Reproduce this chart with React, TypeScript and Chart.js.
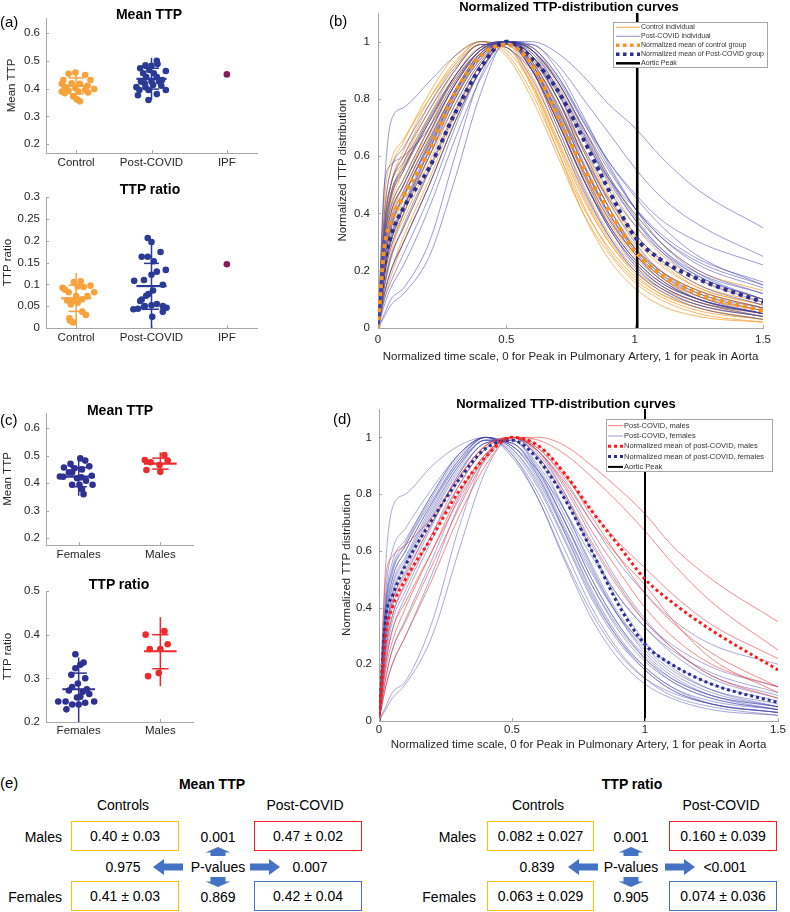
import React, { useEffect, useRef } from 'react';
import { Chart, registerables } from 'chart.js';

Chart.register(...registerables);

const FONT = "'Liberation Sans', Arial, Helvetica, sans-serif";
const INK = '#262626';
const AXIS_COLOR = '#a8a8a8';
Chart.defaults.font.family = FONT;
Chart.defaults.color = INK;

// ---------------- Panel (a) data ----------------
const A_CATEGORIES = ['Control', 'Post-COVID', 'IPF'];
const A_CAT_POS = [1, 2, 3];
const A_MEAN_TTP_TICKS = [0.2, 0.3, 0.4, 0.5, 0.6];
const A_RATIO_TICKS = [0, 0.05, 0.1, 0.15, 0.2, 0.25, 0.3];

const CONTROL_MEAN_TTP = [0.458, 0.453, 0.449, 0.431, 0.431, 0.417, 0.419, 0.417, 0.41, 0.405, 0.401, 0.395, 0.398, 0.389, 0.393, 0.389, 0.386, 0.383, 0.371, 0.361, 0.354];
const CONTROL_MEAN_TTP_JITTER = [-0.01, -0.1, 0.12, -0.17, 0.19, -0.19, -0.06, 0.05, 0.15, -0.15, -0.01, 0.12, 0.24, -0.19, -0.1, 0.03, 0.16, -0.15, -0.04, 0.01, 0.05];
const POSTCOVID_MEAN_TTP = [0.484, 0.482, 0.5, 0.488, 0.473, 0.467, 0.463, 0.455, 0.455, 0.441, 0.441, 0.431, 0.425, 0.425, 0.425, 0.419, 0.413, 0.41, 0.405, 0.405, 0.395, 0.395, 0.395, 0.38, 0.376, 0.359];
const POSTCOVID_MEAN_TTP_JITTER = [-0.08, 0, 0.07, 0.08, -0.15, -0.03, 0.19, -0.11, 0.03, -0.07, 0.07, 0.14, -0.14, 0, 0.1, -0.09, 0.02, 0.13, -0.2, -0.08, 0.19, -0.16, -0.04, 0.07, -0.18, -0.04];
const IPF_MEAN_TTP = [0.451];
const IPF_MEAN_TTP_JITTER = [0];

const CONTROL_RATIO = [0.105, 0.107, 0.092, 0.095, 0.097, 0.082, 0.082, 0.073, 0.073, 0.063, 0.062, 0.054, 0.0375, 0.03, 0.0225, 0.0165, 0.0128, 0.088, 0.094, 0.058, 0.066];
const CONTROL_RATIO_JITTER = [-0.03, 0.06, -0.18, 0.02, 0.19, -0.1, 0.24, 0, 0.15, -0.12, -0.04, -0.07, 0.08, 0.13, -0.09, -0.08, -0.04, -0.15, 0.1, 0.02, 0.08];
const POSTCOVID_RATIO = [0.206, 0.197, 0.174, 0.163, 0.163, 0.153, 0.129, 0.133, 0.122, 0.108, 0.11, 0.099, 0.086, 0.078, 0.074, 0.065, 0.062, 0.052, 0.05, 0.055, 0.05, 0.0465, 0.043, 0.044, 0.048, 0.037, 0.0255];
const POSTCOVID_RATIO_JITTER = [-0.05, 0, 0.12, -0.13, -0.05, 0.03, 0.07, 0.19, 0, -0.23, -0.1, 0.15, 0.02, -0.04, -0.07, -0.13, -0.15, 0, -0.09, 0.07, 0.15, 0.2, -0.24, -0.18, -0.1, 0.15, 0.01];
const IPF_RATIO = [0.146];
const IPF_RATIO_JITTER = [0];

// [mean, sd low, sd high, whisker low, whisker high]
const CONTROL_MEAN_TTP_STATS = [0.41, 0.381, 0.438, 0.354, 0.464];
const POSTCOVID_MEAN_TTP_STATS = [0.435, 0.398, 0.473, 0.359, 0.511];
const CONTROL_RATIO_STATS = [0.068, 0.038, 0.098, 0.006, 0.126];
const POSTCOVID_RATIO_STATS = [0.096, 0.043, 0.148, 0.0, 0.193];

// ---------------- Panel (c) data ----------------
const C_CATEGORIES = ['Females', 'Males'];
const C_CAT_POS = [1, 2];
const C_MEAN_TTP_TICKS = [0.2, 0.3, 0.4, 0.5, 0.6];
const C_RATIO_TICKS = [0.2, 0.3, 0.4, 0.5];

const FEMALE_MEAN_TTP = [0.49, 0.482, 0.47, 0.461, 0.457, 0.454, 0.45, 0.439, 0.439, 0.424, 0.423, 0.418, 0.421, 0.409, 0.427, 0.394, 0.394, 0.394, 0.378, 0.36];
const FEMALE_MEAN_TTP_JITTER = [0.02, 0.08, -0.1, 0.13, -0.18, -0.05, 0.04, -0.12, -0.08, -0.23, -0.19, -0.02, 0.03, 0.09, 0.16, -0.08, 0.17, 0.01, 0.04, 0.06];
const MALE_MEAN_TTP = [0.502, 0.484, 0.476, 0.482, 0.466, 0.448, 0.441];
const MALE_MEAN_TTP_JITTER = [0.05, -0.19, -0.12, 0.09, -0.01, -0.17, 0];
const FEMALE_RATIO = [0.355, 0.336, 0.331, 0.323, 0.308, 0.3, 0.288, 0.28, 0.269, 0.264, 0.256, 0.258, 0.247, 0.247, 0.24, 0.24, 0.244, 0.247, 0.229, 0.272, 0.275];
const FEMALE_RATIO_JITTER = [-0.04, 0.06, 0.02, -0.04, -0.09, 0.08, -0.01, -0.08, 0.05, 0.13, -0.02, 0.02, -0.25, -0.16, -0.08, 0, 0.08, 0.19, -0.15, -0.12, 0.1];
const MALE_RATIO = [0.4, 0.408, 0.378, 0.367, 0.367, 0.305, 0.312];
const MALE_RATIO_JITTER = [-0.18, 0.05, 0.09, -0.13, 0, -0.15, -0.02];

const FEMALE_MEAN_TTP_STATS = [0.424, 0.387, 0.457, 0.354, 0.494];
const MALE_MEAN_TTP_STATS = [0.471, 0.451, 0.491, 0.433, 0.512];
const FEMALE_RATIO_STATS = [0.275, 0.241, 0.312, 0.2, 0.348];
const MALE_RATIO_STATS = [0.362, 0.322, 0.4, 0.282, 0.44];

// ---------------- Panels (b) and (d) curve data ----------------
const XGRID = [0, 0.025, 0.05, 0.1, 0.2, 0.3, 0.4, 0.5, 0.6, 0.7, 0.8, 0.9, 1.0, 1.1, 1.25, 1.5];
const CURVE_X_TICKS = [0, 0.5, 1, 1.5];
const CURVE_Y_TICKS = [0, 0.2, 0.4, 0.6, 0.8, 1];

// panel (b)
const CONTROL_CURVES = [
  [0, 0.3, 0.45, 0.55, 0.72, 0.88, 0.98, 1.0, 0.9, 0.72, 0.52, 0.36, 0.24, 0.16, 0.1, 0.05],
  [0, 0.2, 0.3, 0.4, 0.6, 0.8, 0.95, 1.0, 0.92, 0.75, 0.55, 0.38, 0.26, 0.18, 0.11, 0.06],
  [0, 0.35, 0.5, 0.62, 0.8, 0.93, 1.0, 0.97, 0.85, 0.65, 0.45, 0.3, 0.19, 0.12, 0.07, 0.03],
  [0, 0.15, 0.25, 0.35, 0.55, 0.75, 0.92, 1.0, 0.95, 0.8, 0.6, 0.42, 0.29, 0.2, 0.13, 0.07],
  [0, 0.4, 0.55, 0.65, 0.82, 0.95, 1.0, 0.95, 0.8, 0.6, 0.4, 0.26, 0.16, 0.1, 0.05, 0.02],
  [0, 0.25, 0.38, 0.5, 0.68, 0.85, 0.97, 1.0, 0.9, 0.7, 0.5, 0.33, 0.22, 0.15, 0.09, 0.04],
  [0, 0.1, 0.18, 0.3, 0.5, 0.72, 0.9, 1.0, 0.97, 0.85, 0.68, 0.5, 0.36, 0.26, 0.17, 0.1],
  [0, 0.3, 0.42, 0.52, 0.7, 0.86, 0.97, 1.0, 0.93, 0.78, 0.6, 0.44, 0.31, 0.22, 0.14, 0.08],
  [0, 0.45, 0.58, 0.66, 0.8, 0.92, 0.99, 0.98, 0.84, 0.62, 0.4, 0.24, 0.14, 0.08, 0.04, 0.02],
  [0, 0.2, 0.32, 0.45, 0.65, 0.83, 0.96, 1.0, 0.93, 0.77, 0.57, 0.4, 0.27, 0.18, 0.11, 0.06],
  [0, 0.18, 0.28, 0.38, 0.58, 0.78, 0.93, 1.0, 0.96, 0.82, 0.63, 0.46, 0.33, 0.24, 0.15, 0.09],
  [0, 0.33, 0.46, 0.58, 0.76, 0.9, 0.99, 0.99, 0.88, 0.68, 0.47, 0.31, 0.2, 0.13, 0.08, 0.04],
  [0, 0.22, 0.35, 0.47, 0.67, 0.85, 0.97, 1.0, 0.9, 0.72, 0.53, 0.37, 0.25, 0.17, 0.1, 0.05],
  [0, 0.28, 0.4, 0.5, 0.7, 0.88, 0.98, 0.99, 0.86, 0.66, 0.46, 0.3, 0.2, 0.14, 0.09, 0.05],
  [0, 0.12, 0.2, 0.32, 0.52, 0.74, 0.9, 0.99, 0.98, 0.86, 0.7, 0.53, 0.4, 0.3, 0.2, 0.13],
  [0, 0.38, 0.5, 0.6, 0.78, 0.92, 1.0, 0.96, 0.82, 0.62, 0.42, 0.28, 0.18, 0.12, 0.07, 0.03],
  [0, 0.26, 0.38, 0.48, 0.66, 0.83, 0.95, 1.0, 0.94, 0.8, 0.62, 0.45, 0.32, 0.23, 0.14, 0.08],
  [0, 0.3, 0.43, 0.55, 0.74, 0.9, 0.99, 0.98, 0.85, 0.64, 0.43, 0.27, 0.17, 0.11, 0.06, 0.03],
  [0, 0.16, 0.26, 0.4, 0.62, 0.82, 0.96, 1.0, 0.92, 0.74, 0.54, 0.38, 0.26, 0.18, 0.11, 0.06],
  [0, 0.34, 0.47, 0.57, 0.73, 0.87, 0.97, 1.0, 0.91, 0.74, 0.55, 0.4, 0.28, 0.2, 0.13, 0.07],
];

const POSTCOVID_CURVES = [
  [0, 0.5, 0.72, 0.77, 0.86, 0.95, 1.0, 0.98, 0.9, 0.76, 0.6, 0.45, 0.33, 0.24, 0.15, 0.08],
  [0, 0.05, 0.1, 0.14, 0.3, 0.6, 0.88, 1.0, 0.95, 0.8, 0.6, 0.42, 0.28, 0.19, 0.11, 0.05],
  [0, 0.04, 0.08, 0.12, 0.25, 0.52, 0.82, 1.0, 0.97, 0.83, 0.62, 0.44, 0.3, 0.2, 0.12, 0.06],
  [0, 0.15, 0.25, 0.35, 0.55, 0.75, 0.92, 1.0, 1.0, 0.96, 0.88, 0.78, 0.7, 0.6, 0.48, 0.35],
  [0, 0.2, 0.32, 0.42, 0.6, 0.78, 0.93, 1.0, 0.99, 0.92, 0.8, 0.68, 0.56, 0.46, 0.36, 0.25],
  [0, 0.25, 0.37, 0.48, 0.66, 0.83, 0.96, 1.0, 0.96, 0.84, 0.68, 0.52, 0.4, 0.3, 0.2, 0.12],
  [0, 0.18, 0.28, 0.4, 0.6, 0.8, 0.94, 1.0, 0.94, 0.8, 0.63, 0.48, 0.36, 0.27, 0.18, 0.1],
  [0, 0.3, 0.45, 0.55, 0.72, 0.88, 0.98, 1.0, 0.92, 0.76, 0.57, 0.4, 0.28, 0.2, 0.13, 0.07],
  [0, 0.35, 0.5, 0.6, 0.76, 0.9, 0.99, 0.99, 0.9, 0.72, 0.52, 0.36, 0.24, 0.16, 0.1, 0.05],
  [0, 0.22, 0.34, 0.46, 0.64, 0.82, 0.95, 1.0, 0.92, 0.74, 0.54, 0.36, 0.24, 0.16, 0.1, 0.05],
  [0, 0.27, 0.4, 0.5, 0.68, 0.85, 0.97, 1.0, 0.9, 0.72, 0.52, 0.35, 0.23, 0.15, 0.09, 0.05],
  [0, 0.12, 0.2, 0.3, 0.5, 0.72, 0.9, 1.0, 0.98, 0.88, 0.72, 0.56, 0.42, 0.32, 0.22, 0.14],
  [0, 0.4, 0.55, 0.63, 0.78, 0.91, 0.99, 0.98, 0.87, 0.68, 0.48, 0.32, 0.21, 0.14, 0.08, 0.04],
  [0, 0.3, 0.42, 0.52, 0.7, 0.86, 0.97, 1.0, 0.9, 0.7, 0.49, 0.32, 0.2, 0.13, 0.07, 0.03],
  [0, 0.2, 0.3, 0.42, 0.62, 0.8, 0.94, 1.0, 0.97, 0.86, 0.7, 0.55, 0.42, 0.32, 0.23, 0.15],
  [0, 0.32, 0.46, 0.56, 0.72, 0.87, 0.97, 1.0, 0.95, 0.8, 0.6, 0.42, 0.28, 0.19, 0.12, 0.07],
  [0, 0.24, 0.36, 0.46, 0.64, 0.82, 0.95, 1.0, 0.93, 0.77, 0.57, 0.39, 0.26, 0.17, 0.1, 0.05],
  [0, 0.1, 0.16, 0.26, 0.46, 0.7, 0.9, 1.0, 0.97, 0.86, 0.7, 0.53, 0.39, 0.28, 0.18, 0.1],
  [0, 0.28, 0.4, 0.5, 0.68, 0.85, 0.96, 1.0, 0.97, 0.87, 0.72, 0.58, 0.47, 0.38, 0.3, 0.22],
  [0, 0.36, 0.5, 0.58, 0.74, 0.88, 0.98, 1.0, 0.92, 0.75, 0.55, 0.38, 0.26, 0.17, 0.1, 0.05],
  [0, 0.18, 0.3, 0.42, 0.62, 0.82, 0.95, 1.0, 0.93, 0.78, 0.58, 0.4, 0.27, 0.18, 0.1, 0.05],
  [0, 0.5, 0.57, 0.6, 0.7, 0.85, 0.97, 1.0, 0.95, 0.82, 0.66, 0.52, 0.42, 0.33, 0.24, 0.16],
  [0, 0.14, 0.24, 0.36, 0.56, 0.76, 0.92, 1.0, 0.97, 0.86, 0.69, 0.52, 0.38, 0.27, 0.17, 0.09],
  [0, 0.33, 0.47, 0.56, 0.73, 0.88, 0.98, 1.0, 0.9, 0.72, 0.52, 0.35, 0.23, 0.15, 0.09, 0.04],
  [0, 0.2, 0.31, 0.43, 0.63, 0.81, 0.95, 1.0, 0.95, 0.83, 0.67, 0.51, 0.38, 0.28, 0.19, 0.12],
  [0, 0.08, 0.14, 0.22, 0.42, 0.66, 0.87, 0.99, 0.99, 0.9, 0.74, 0.57, 0.42, 0.3, 0.19, 0.1],
  [0, 0.12, 0.2, 0.3, 0.5, 0.72, 0.9, 1.0, 0.98, 0.88, 0.73, 0.58, 0.46, 0.36, 0.25, 0.15],
  [0, 0.23, 0.35, 0.46, 0.65, 0.83, 0.96, 1.0, 0.91, 0.73, 0.52, 0.35, 0.22, 0.14, 0.08, 0.04],
];

// panel (d)
const MALE_CURVES_D = [
  [0, 0.15, 0.25, 0.35, 0.55, 0.75, 0.92, 1.0, 1.0, 0.97, 0.9, 0.82, 0.73, 0.62, 0.5, 0.35],
  [0, 0.2, 0.32, 0.42, 0.6, 0.78, 0.93, 1.0, 0.99, 0.94, 0.86, 0.77, 0.67, 0.56, 0.42, 0.25],
  [0, 0.5, 0.58, 0.62, 0.72, 0.86, 0.97, 1.0, 0.96, 0.86, 0.74, 0.63, 0.54, 0.45, 0.34, 0.22],
  [0, 0.25, 0.37, 0.48, 0.66, 0.83, 0.96, 1.0, 0.95, 0.84, 0.7, 0.58, 0.48, 0.36, 0.22, 0.1],
  [0, 0.12, 0.2, 0.3, 0.5, 0.72, 0.9, 1.0, 0.97, 0.87, 0.72, 0.58, 0.45, 0.35, 0.24, 0.12],
  [0, 0.18, 0.28, 0.4, 0.6, 0.8, 0.94, 1.0, 0.94, 0.8, 0.63, 0.48, 0.35, 0.26, 0.16, 0.08],
  [0, 0.3, 0.42, 0.52, 0.7, 0.86, 0.97, 1.0, 0.95, 0.83, 0.67, 0.53, 0.4, 0.3, 0.2, 0.12],
];
const FEMALE_CURVES_D = [
  [0, 0.55, 0.75, 0.8, 0.9, 0.97, 1.0, 0.97, 0.88, 0.74, 0.58, 0.44, 0.33, 0.24, 0.15, 0.08],
  [0, 0.05, 0.1, 0.14, 0.35, 0.68, 0.93, 1.0, 0.92, 0.74, 0.54, 0.37, 0.24, 0.16, 0.09, 0.04],
  [0, 0.04, 0.08, 0.13, 0.3, 0.6, 0.88, 1.0, 0.95, 0.8, 0.6, 0.42, 0.28, 0.19, 0.11, 0.05],
  [0, 0.35, 0.5, 0.6, 0.77, 0.92, 1.0, 0.96, 0.84, 0.66, 0.46, 0.3, 0.19, 0.12, 0.06, 0.03],
  [0, 0.42, 0.56, 0.64, 0.8, 0.94, 1.0, 0.94, 0.8, 0.6, 0.4, 0.25, 0.15, 0.09, 0.05, 0.02],
  [0, 0.3, 0.45, 0.56, 0.74, 0.9, 0.99, 0.98, 0.88, 0.7, 0.5, 0.34, 0.22, 0.14, 0.08, 0.04],
  [0, 0.38, 0.52, 0.62, 0.79, 0.93, 1.0, 0.95, 0.82, 0.63, 0.43, 0.28, 0.18, 0.11, 0.06, 0.03],
  [0, 0.28, 0.42, 0.53, 0.72, 0.88, 0.98, 0.99, 0.9, 0.74, 0.55, 0.38, 0.26, 0.18, 0.11, 0.06],
  [0, 0.45, 0.6, 0.68, 0.82, 0.94, 1.0, 0.93, 0.78, 0.57, 0.38, 0.24, 0.15, 0.1, 0.06, 0.03],
  [0, 0.2, 0.32, 0.44, 0.64, 0.83, 0.96, 1.0, 0.93, 0.78, 0.6, 0.44, 0.33, 0.25, 0.17, 0.1],
  [0, 0.33, 0.47, 0.57, 0.75, 0.9, 0.99, 0.98, 0.87, 0.7, 0.52, 0.37, 0.27, 0.2, 0.13, 0.07],
  [0, 0.15, 0.25, 0.36, 0.57, 0.79, 0.94, 1.0, 0.96, 0.85, 0.7, 0.56, 0.45, 0.36, 0.27, 0.2],
  [0, 0.4, 0.54, 0.63, 0.8, 0.94, 1.0, 0.94, 0.78, 0.56, 0.36, 0.22, 0.13, 0.08, 0.04, 0.02],
  [0, 0.3, 0.44, 0.55, 0.73, 0.89, 0.99, 0.98, 0.86, 0.66, 0.45, 0.29, 0.18, 0.11, 0.06, 0.03],
  [0, 0.22, 0.35, 0.46, 0.66, 0.85, 0.97, 1.0, 0.93, 0.79, 0.62, 0.47, 0.35, 0.27, 0.19, 0.12],
  [0, 0.36, 0.5, 0.6, 0.77, 0.91, 0.99, 0.97, 0.85, 0.67, 0.48, 0.33, 0.22, 0.15, 0.09, 0.05],
  [0, 0.26, 0.4, 0.51, 0.7, 0.87, 0.98, 0.99, 0.89, 0.72, 0.53, 0.37, 0.25, 0.17, 0.1, 0.05],
  [0, 0.12, 0.2, 0.3, 0.52, 0.76, 0.93, 1.0, 0.95, 0.82, 0.65, 0.49, 0.36, 0.26, 0.16, 0.09],
  [0, 0.4, 0.53, 0.62, 0.78, 0.92, 1.0, 0.96, 0.83, 0.64, 0.44, 0.29, 0.19, 0.12, 0.07, 0.04],
  [0, 0.24, 0.37, 0.49, 0.69, 0.87, 0.98, 0.99, 0.88, 0.7, 0.5, 0.34, 0.23, 0.15, 0.09, 0.05],
  [0, 0.34, 0.48, 0.58, 0.76, 0.91, 1.0, 0.97, 0.86, 0.68, 0.48, 0.32, 0.21, 0.14, 0.08, 0.04],
];

const CONTROL_MEAN_CURVE = [0, 0.28, 0.37, 0.46, 0.62, 0.82, 0.95, 0.99, 0.92, 0.74, 0.56, 0.41, 0.27, 0.19, 0.12, 0.06];
const POSTCOVID_MEAN_CURVE = [0, 0.22, 0.32, 0.42, 0.56, 0.75, 0.91, 1.0, 0.94, 0.83, 0.66, 0.48, 0.32, 0.24, 0.17, 0.09];
const MALE_MEAN_CURVE = [0, 0.3, 0.4, 0.5, 0.65, 0.81, 0.93, 1.0, 0.97, 0.87, 0.74, 0.62, 0.5, 0.42, 0.32, 0.18];
const FEMALE_MEAN_CURVE = [0, 0.36, 0.44, 0.55, 0.71, 0.85, 0.96, 0.99, 0.92, 0.78, 0.6, 0.41, 0.27, 0.2, 0.13, 0.065];
const AORTIC_PEAK_B = 1.01;
const AORTIC_PEAK_D = 1.0;

// ---------------- Panel (e) data ----------------
const E_ROW_LABELS = ['Males', 'Females'];
const E_COL_LABELS = ['Controls', 'Post-COVID'];
const E_MEAN_TTP_CELLS = [['0.40 ± 0.03', '0.47 ± 0.02'], ['0.41 ± 0.03', '0.42 ± 0.04']];
const E_MEAN_TTP_PVALUES = ['0.001', '0.975', '0.007', '0.869']; // up, left, right, down
const E_RATIO_CELLS = [['0.082 ± 0.027', '0.160 ± 0.039'], ['0.063 ± 0.029', '0.074 ± 0.036']];
const E_RATIO_PVALUES = ['0.001', '0.839', '<0.001', '0.905'];

// ---------------- Styling ----------------
const ORANGE = '#F8A23C';
const NAVY = '#2A3B96';
const IPF_COLOR = '#861C58';
const FEMALE_DOT = '#2E3192';
const MALE_DOT = '#EE2A2D';
const CONTROL_LINE = 'rgba(247,160,50,0.85)';
const POST_LINE = 'rgba(62,64,170,0.58)';
const MALE_LINE = 'rgba(240,55,55,0.65)';
const FEMALE_LINE = 'rgba(62,64,170,0.5)';
const BOX_COLORS = [['#FFC000', '#FF1E1E'], ['#FFC000', '#4472C4']];
const ARROW_COLOR = '#4472C4';

type Rect = { x: number; y: number; w: number; h: number };
type Area = { l: number; t: number; r: number; b: number };

function frame(c: Rect, a: Area) {
  return {
    padding: { left: 0, top: a.t - c.y, right: c.x + c.w - a.r, bottom: 0 },
    yWidth: a.l - c.x,
    xHeight: c.y + c.h - a.b,
  };
}

function axis(o: any) {
  return {
    type: 'linear',
    min: o.min,
    max: o.max,
    afterBuildTicks: (s: any) => {
      s.ticks = o.ticks.map((v: number) => ({ value: v }));
    },
    afterFit: (s: any) => {
      if (o.w !== undefined) s.width = o.w;
      if (o.h !== undefined) s.height = o.h;
    },
    ticks: {
      callback: (v: any) => (o.labels ? o.labels(v) : String(v)),
      color: INK,
      font: { size: o.size || 11.5, family: FONT },
      padding: o.tickPad,
      autoSkip: false,
      maxRotation: 0,
      minRotation: 0,
    },
    grid: { display: true, drawOnChartArea: false, drawTicks: false },
    border: { display: true, color: AXIS_COLOR, width: 1 },
    title: {
      display: !!o.title,
      text: o.title,
      color: INK,
      font: { size: o.titleSize || 11.5, family: FONT },
      padding: o.titlePad,
    },
  };
}

const inwardTicks = {
  id: 'inwardTicks',
  afterDraw(chart: any) {
    const { ctx, chartArea: a, scales } = chart;
    ctx.save();
    ctx.strokeStyle = AXIS_COLOR;
    ctx.lineWidth = 1;
    ctx.beginPath();
    scales.x.ticks.forEach((t: any) => {
      const p = Math.round(scales.x.getPixelForValue(t.value)) + 0.5;
      ctx.moveTo(p, a.bottom);
      ctx.lineTo(p, a.bottom - 3);
    });
    scales.y.ticks.forEach((t: any) => {
      const p = Math.round(scales.y.getPixelForValue(t.value)) + 0.5;
      ctx.moveTo(a.left, p);
      ctx.lineTo(a.left + 3, p);
    });
    ctx.stroke();
    ctx.restore();
  },
};

const boxLegend = {
  id: 'boxLegend',
  afterDraw(chart: any, _args: any, opts: any) {
    if (!opts || !opts.box) return;
    const b = opts.box;
    const { ctx } = chart;
    ctx.save();
    ctx.fillStyle = '#ffffff';
    ctx.fillRect(b.x, b.y, b.w, b.h);
    ctx.strokeStyle = '#a6a6a6';
    ctx.lineWidth = 1;
    ctx.strokeRect(b.x + 0.5, b.y + 0.5, b.w - 1, b.h - 1);
    const items = chart.data.datasets
      .filter((d: any) => d.legendLabel)
      .sort((p: any, q: any) => p.legendRank - q.legendRank);
    items.forEach((d: any, i: number) => {
      const cy = b.y + b.first + i * b.rowH;
      ctx.strokeStyle = d.legendColor || d.borderColor;
      ctx.lineWidth = d.legendWidth;
      ctx.setLineDash(d.legendDash || []);
      ctx.beginPath();
      ctx.moveTo(b.x + b.s0, cy);
      ctx.lineTo(b.x + b.s1, cy);
      ctx.stroke();
      ctx.setLineDash([]);
      ctx.fillStyle = '#333333';
      ctx.font = `${b.size}px ${FONT}`;
      ctx.textBaseline = 'middle';
      ctx.textAlign = 'left';
      ctx.fillText(d.legendLabel, b.x + b.tx, cy);
    });
    ctx.restore();
  },
};

function lineSet(points: any[], color: string, width: number, order: number, extra: any = {}) {
  return {
    data: points,
    showLine: true,
    borderColor: color,
    backgroundColor: color,
    borderWidth: width,
    pointRadius: 0,
    pointHoverRadius: 0,
    borderCapStyle: 'butt',
    order,
    ...extra,
  };
}

type Group = { center: number; values: number[]; jitter: number[]; stats?: number[]; color: string };

function scatterConfig(groups: Group[], spec: any) {
  const f = frame(spec.canvas, spec.area);
  const datasets: any[] = [];
  groups.forEach((g) => {
    datasets.push({
      data: g.values.map((v, i) => ({ x: g.center + g.jitter[i], y: v })),
      pointRadius: 3.3,
      pointHoverRadius: 3.3,
      pointBackgroundColor: g.color,
      pointBorderWidth: 0,
      backgroundColor: g.color,
      order: 2,
    });
    if (g.stats) {
      const [m, sLo, sHi, wLo, wHi] = g.stats;
      const c = g.center;
      datasets.push(lineSet([{ x: c, y: wLo }, { x: c, y: wHi }], g.color, 1.5, 1));
      datasets.push(lineSet([{ x: c - 0.2, y: m }, { x: c + 0.2, y: m }], g.color, 2.2, 1));
      datasets.push(lineSet([{ x: c - 0.1, y: sLo }, { x: c + 0.1, y: sLo }], g.color, 1.5, 1));
      datasets.push(lineSet([{ x: c - 0.1, y: sHi }, { x: c + 0.1, y: sHi }], g.color, 1.5, 1));
    }
  });
  return {
    type: 'scatter',
    data: { datasets },
    plugins: [inwardTicks],
    options: {
      responsive: false,
      animation: false,
      devicePixelRatio: 1,
      events: [],
      layout: { padding: f.padding },
      plugins: { legend: { display: false }, tooltip: { enabled: false }, title: { display: false } },
      scales: {
        x: axis({
          min: spec.xMin,
          max: spec.xMax,
          ticks: spec.xTicks,
          labels: spec.xLabels,
          h: f.xHeight,
          tickPad: spec.xTickPad,
        }),
        y: axis({
          min: spec.yMin,
          max: spec.yMax,
          ticks: spec.yTicks,
          w: f.yWidth,
          tickPad: spec.yTickPad,
          title: spec.yTitle,
          titlePad: { top: spec.yTitlePad, bottom: 0 },
        }),
      },
    },
  };
}

function curvePoints(ys: number[]) {
  return XGRID.map((x, i) => ({ x, y: ys[i] }));
}

function curveSet(ys: number[], color: string, width: number, order: number, extra: any = {}) {
  return lineSet(curvePoints(ys), color, width, order, { cubicInterpolationMode: 'monotone', ...extra });
}

function curveConfig(datasets: any[], spec: any) {
  const f = frame(spec.canvas, spec.area);
  return {
    type: 'scatter',
    data: { datasets },
    plugins: [inwardTicks, boxLegend],
    options: {
      responsive: false,
      animation: false,
      devicePixelRatio: 1,
      events: [],
      layout: { padding: f.padding },
      plugins: {
        legend: { display: false },
        tooltip: { enabled: false },
        title: { display: false },
        boxLegend: { box: spec.legend },
      },
      scales: {
        x: axis({
          min: 0,
          max: 1.5,
          ticks: CURVE_X_TICKS,
          h: f.xHeight,
          tickPad: spec.xTickPad,
          title: 'Normalized time scale, 0 for Peak in Pulmonary Artery, 1 for peak in Aorta',
          titlePad: { top: 0, bottom: spec.xTitlePad },
        }),
        y: axis({
          min: 0,
          max: 1.1,
          ticks: CURVE_Y_TICKS,
          w: f.yWidth,
          tickPad: spec.yTickPad,
          title: 'Normalized TTP distribution',
          titlePad: { top: spec.yTitlePad, bottom: 0 },
        }),
      },
    },
  };
}

// ---------------- Chart builders ----------------
const A1_CANVAS = { x: 0, y: 0, w: 270, h: 176 };
const A2_CANVAS = { x: 0, y: 176, w: 270, h: 172 };
const C1_CANVAS = { x: 0, y: 395, w: 270, h: 170 };
const C2_CANVAS = { x: 0, y: 570, w: 270, h: 172 };
const B_CANVAS = { x: 270, y: -10, w: 520, h: 380 };
const D_CANVAS = { x: 270, y: 385, w: 520, h: 380 };

const aLabel = (v: number) => A_CATEGORIES[A_CAT_POS.indexOf(Math.round(v))] || '';
const cLabel = (v: number) => C_CATEGORIES[C_CAT_POS.indexOf(Math.round(v))] || '';

const makeA1 = () =>
  scatterConfig(
    [
      { center: A_CAT_POS[0], values: CONTROL_MEAN_TTP, jitter: CONTROL_MEAN_TTP_JITTER, stats: CONTROL_MEAN_TTP_STATS, color: ORANGE },
      { center: A_CAT_POS[1], values: POSTCOVID_MEAN_TTP, jitter: POSTCOVID_MEAN_TTP_JITTER, stats: POSTCOVID_MEAN_TTP_STATS, color: NAVY },
      { center: A_CAT_POS[2], values: IPF_MEAN_TTP, jitter: IPF_MEAN_TTP_JITTER, color: IPF_COLOR },
    ],
    {
      canvas: A1_CANVAS, area: { l: 46, t: 18, r: 257, b: 153 },
      xMin: 0.6, xMax: 3.4, xTicks: A_CAT_POS, xLabels: aLabel, xTickPad: 3,
      yMin: 0.168, yMax: 0.654, yTicks: A_MEAN_TTP_TICKS, yTickPad: 6, yTitle: 'Mean TTP', yTitlePad: 5,
    }
  );

const makeA2 = () =>
  scatterConfig(
    [
      { center: A_CAT_POS[0], values: CONTROL_RATIO, jitter: CONTROL_RATIO_JITTER, stats: CONTROL_RATIO_STATS, color: ORANGE },
      { center: A_CAT_POS[1], values: POSTCOVID_RATIO, jitter: POSTCOVID_RATIO_JITTER, stats: POSTCOVID_RATIO_STATS, color: NAVY },
      { center: A_CAT_POS[2], values: IPF_RATIO, jitter: IPF_RATIO_JITTER, color: IPF_COLOR },
    ],
    {
      canvas: A2_CANVAS, area: { l: 46, t: 197, r: 257, b: 328 },
      xMin: 0.6, xMax: 3.4, xTicks: A_CAT_POS, xLabels: aLabel, xTickPad: 3,
      yMin: 0, yMax: 0.3, yTicks: A_RATIO_TICKS, yTickPad: 6, yTitle: 'TTP ratio', yTitlePad: 0.6,
    }
  );

const makeC1 = () =>
  scatterConfig(
    [
      { center: C_CAT_POS[0], values: FEMALE_MEAN_TTP, jitter: FEMALE_MEAN_TTP_JITTER, stats: FEMALE_MEAN_TTP_STATS, color: FEMALE_DOT },
      { center: C_CAT_POS[1], values: MALE_MEAN_TTP, jitter: MALE_MEAN_TTP_JITTER, stats: MALE_MEAN_TTP_STATS, color: MALE_DOT },
    ],
    {
      canvas: C1_CANVAS, area: { l: 46, t: 413, r: 193, b: 545 },
      xMin: 0.6, xMax: 2.4, xTicks: C_CAT_POS, xLabels: cLabel, xTickPad: 3,
      yMin: 0.175, yMax: 0.655, yTicks: C_MEAN_TTP_TICKS, yTickPad: 6, yTitle: 'Mean TTP', yTitlePad: 1,
    }
  );

const makeC2 = () =>
  scatterConfig(
    [
      { center: C_CAT_POS[0], values: FEMALE_RATIO, jitter: FEMALE_RATIO_JITTER, stats: FEMALE_RATIO_STATS, color: FEMALE_DOT },
      { center: C_CAT_POS[1], values: MALE_RATIO, jitter: MALE_RATIO_JITTER, stats: MALE_RATIO_STATS, color: MALE_DOT },
    ],
    {
      canvas: C2_CANVAS, area: { l: 46, t: 591, r: 193, b: 722 },
      xMin: 0.6, xMax: 2.4, xTicks: C_CAT_POS, xLabels: cLabel, xTickPad: 2,
      yMin: 0.2, yMax: 0.5, yTicks: C_RATIO_TICKS, yTickPad: 6, yTitle: 'TTP ratio', yTitlePad: 1,
    }
  );

const makeB = () => {
  const ds: any[] = [];
  CONTROL_CURVES.forEach((c, i) =>
    ds.push(curveSet(c, CONTROL_LINE, 0.9, 3, i === 0 ? { legendLabel: 'Control individual', legendRank: 0, legendWidth: 1 } : {}))
  );
  POSTCOVID_CURVES.forEach((c, i) =>
    ds.push(curveSet(c, POST_LINE, 0.9, 2, i === 0 ? { legendLabel: 'Post-COVID individual', legendRank: 1, legendWidth: 1 } : {}))
  );
  ds.push(curveSet(CONTROL_MEAN_CURVE, '#F7941D', 4, 0, { borderDash: [4, 4], legendLabel: 'Normalized mean of control group', legendRank: 2, legendWidth: 3.5, legendDash: [3.5, 3.5] }));
  ds.push(curveSet(POSTCOVID_MEAN_CURVE, '#2B2F92', 4, 0, { borderDash: [4, 4], legendLabel: 'Normalized mean of Post-COVID group', legendRank: 3, legendWidth: 3.5, legendDash: [3.5, 3.5] }));
  ds.push(lineSet([{ x: AORTIC_PEAK_B, y: 0 }, { x: AORTIC_PEAK_B, y: 1.1 }], '#000000', 2.6, 1, { legendLabel: 'Aortic Peak', legendRank: 4, legendWidth: 2.5 }));
  return curveConfig(ds, {
    canvas: B_CANVAS,
    area: { l: 378, t: 13, r: 763, b: 328 },
    xTickPad: 5, xTitlePad: 6, yTickPad: 8, yTitlePad: 66,
    legend: { x: 343, y: 32, w: 155, h: 46, first: 5.3, rowH: 9, s0: 3, s1: 27, tx: 28, size: 7 },
  });
};

const makeD = () => {
  const ds: any[] = [];
  MALE_CURVES_D.forEach((c, i) =>
    ds.push(curveSet(c, MALE_LINE, 0.9, 2, i === 0 ? { legendLabel: 'Post-COVID, males', legendRank: 0, legendWidth: 1 } : {}))
  );
  FEMALE_CURVES_D.forEach((c, i) =>
    ds.push(curveSet(c, FEMALE_LINE, 0.9, 3, i === 0 ? { legendLabel: 'Post-COVID, females', legendRank: 1, legendWidth: 1 } : {}))
  );
  ds.push(curveSet(MALE_MEAN_CURVE, '#FF1A1A', 3, 0, { borderDash: [3, 3], legendLabel: 'Normalized mean of post-COVID, males', legendRank: 2, legendWidth: 3, legendDash: [3, 3] }));
  ds.push(curveSet(FEMALE_MEAN_CURVE, '#2B2F92', 3, 0, { borderDash: [3, 3], legendLabel: 'Normalized mean of post-COVID, females', legendRank: 3, legendWidth: 3, legendDash: [3, 3] }));
  ds.push(lineSet([{ x: AORTIC_PEAK_D, y: 0 }, { x: AORTIC_PEAK_D, y: 1.1 }], '#000000', 2, 1, { legendLabel: 'Aortic Peak', legendRank: 4, legendWidth: 2 }));
  return curveConfig(ds, {
    canvas: D_CANVAS,
    area: { l: 379, t: 409, r: 778, b: 721 },
    xTickPad: 2, xTitlePad: 13, yTickPad: 7, yTitlePad: 70,
    legend: { x: 336, y: 34, w: 167, h: 53, first: 6.7, rowH: 10.3, s0: 2, s1: 17, tx: 18, size: 7.5 },
  });
};

// ---------------- Components ----------------
function ChartBox({ rect, make }: { rect: Rect; make: () => any }) {
  const ref = useRef<HTMLCanvasElement>(null);
  useEffect(() => {
    const chart = new Chart(ref.current as HTMLCanvasElement, make());
    return () => chart.destroy();
  }, []);
  return (
    <canvas
      ref={ref}
      width={rect.w}
      height={rect.h}
      style={{ position: 'absolute', left: rect.x, top: rect.y, width: rect.w, height: rect.h }}
    />
  );
}

function Label({ x, y, text, size = 14, bold = false, align = 'center' }: any) {
  const tx = align === 'center' ? '-50%' : align === 'right' ? '-100%' : '0';
  return (
    <div
      style={{
        position: 'absolute',
        left: x,
        top: y,
        transform: `translate(${tx}, -50%)`,
        fontFamily: FONT,
        fontSize: size,
        fontWeight: bold ? 'bold' : 'normal',
        color: '#000',
        whiteSpace: 'nowrap',
        lineHeight: 1,
      }}
    >
      {text}
    </div>
  );
}

function Box({ l, r, t, color, text }: any) {
  return (
    <div
      style={{
        position: 'absolute',
        left: l,
        top: t,
        width: r - l,
        height: 30,
        boxSizing: 'border-box',
        border: `1.5px solid ${color}`,
        display: 'flex',
        alignItems: 'center',
        justifyContent: 'center',
        fontFamily: FONT,
        fontSize: 14,
        color: '#000',
        whiteSpace: 'nowrap',
      }}
    >
      {text}
    </div>
  );
}

function hArrow(tail: number, tip: number, cy: number) {
  const d = Math.sign(tip - tail);
  const hb = tip - d * 11;
  return `${tail},${cy - 3.5} ${hb},${cy - 3.5} ${hb},${cy - 8} ${tip},${cy} ${hb},${cy + 8} ${hb},${cy + 3.5} ${tail},${cy + 3.5}`;
}
function vArrow(cx: number, tail: number, tip: number) {
  const d = Math.sign(tip - tail);
  const hb = tip - d * 5.5;
  return `${cx - 7.5},${tail} ${cx - 7.5},${hb} ${cx - 12.5},${hb} ${cx},${tip} ${cx + 12.5},${hb} ${cx + 7.5},${hb} ${cx + 7.5},${tail}`;
}

const ROW_Y = [837, 897];
const BOX_TOP = [821, 881];

function Summary({ g, title, cells, pvals }: any) {
  return (
    <>
      <Label x={g.titleX} y={784} text={title} bold size={14} />
      <Label x={g.colX[0]} y={805} text={E_COL_LABELS[0]} />
      <Label x={g.colX[1]} y={805} text={E_COL_LABELS[1]} />
      {E_ROW_LABELS.map((r, i) => (
        <Label key={r} x={g.rowRight} y={ROW_Y[i]} text={r} align="right" />
      ))}
      {cells.map((row: string[], i: number) =>
        row.map((c: string, j: number) => (
          <Box key={`${i}-${j}`} l={g.boxes[j][0]} r={g.boxes[j][1]} t={BOX_TOP[i]} color={BOX_COLORS[i][j]} text={c} />
        ))
      )}
      <Label x={g.pX} y={837} text={pvals[0]} />
      <Label x={g.leftPX} y={867} text={pvals[1]} />
      <Label x={g.pX} y={867} text="P-values" />
      <Label x={g.rightPX} y={867} text={pvals[2]} />
      <Label x={g.pX} y={897} text={pvals[3]} />
    </>
  );
}

const E_LEFT = { titleX: 212, colX: [123, 305], rowRight: 62, boxes: [[71, 179], [254, 362]], pX: 218, leftPX: 123, rightPX: 310, lArrow: [183, 153], rArrow: [250, 280] };
const E_RIGHT = { titleX: 632, colX: [538, 721], rowRight: 476, boxes: [[487, 594], [669, 777]], pX: 631, leftPX: 537, rightPX: 725, lArrow: [598, 568], rArrow: [665, 695] };

export default function App() {
  return (
    <div style={{ position: 'absolute', left: 0, top: 0, width: 790, height: 912, background: '#fff', overflow: 'hidden', fontFamily: FONT }}>
      <ChartBox rect={A1_CANVAS} make={makeA1} />
      <ChartBox rect={A2_CANVAS} make={makeA2} />
      <ChartBox rect={C1_CANVAS} make={makeC1} />
      <ChartBox rect={C2_CANVAS} make={makeC2} />
      <ChartBox rect={B_CANVAS} make={makeB} />
      <ChartBox rect={D_CANVAS} make={makeD} />

      <Label x={0} y={21} text="(a)" size={15} align="left" />
      <Label x={329} y={20} text="(b)" size={15} align="left" />
      <Label x={0} y={419} text="(c)" size={15} align="left" />
      <Label x={333} y={418} text="(d)" size={15} align="left" />
      <Label x={0} y={782} text="(e)" size={15} align="left" />

      <Label x={149} y={14} text="Mean TTP" bold size={14} />
      <Label x={150} y={189} text="TTP ratio" bold size={14} />
      <Label x={120} y={410} text="Mean TTP" bold size={14} />
      <Label x={119} y={584} text="TTP ratio" bold size={14} />
      <Label x={569} y={6} text="Normalized TTP-distribution curves" bold size={13} />
      <Label x={566} y={403} text="Normalized TTP-distribution curves" bold size={13} />

      <Summary g={E_LEFT} title="Mean TTP" cells={E_MEAN_TTP_CELLS} pvals={E_MEAN_TTP_PVALUES} />
      <Summary g={E_RIGHT} title="TTP ratio" cells={E_RATIO_CELLS} pvals={E_RATIO_PVALUES} />

      <svg width={790} height={912} style={{ position: 'absolute', left: 0, top: 0, pointerEvents: 'none' }}>
        {[E_LEFT, E_RIGHT].map((g, i) => (
          <g key={i} fill={ARROW_COLOR}>
            <polygon points={hArrow(g.lArrow[0], g.lArrow[1], 867)} />
            <polygon points={hArrow(g.rArrow[0], g.rArrow[1], 867)} />
            <polygon points={vArrow(g.pX, 856, 847)} />
            <polygon points={vArrow(g.pX, 877, 887)} />
          </g>
        ))}
      </svg>
    </div>
  );
}
